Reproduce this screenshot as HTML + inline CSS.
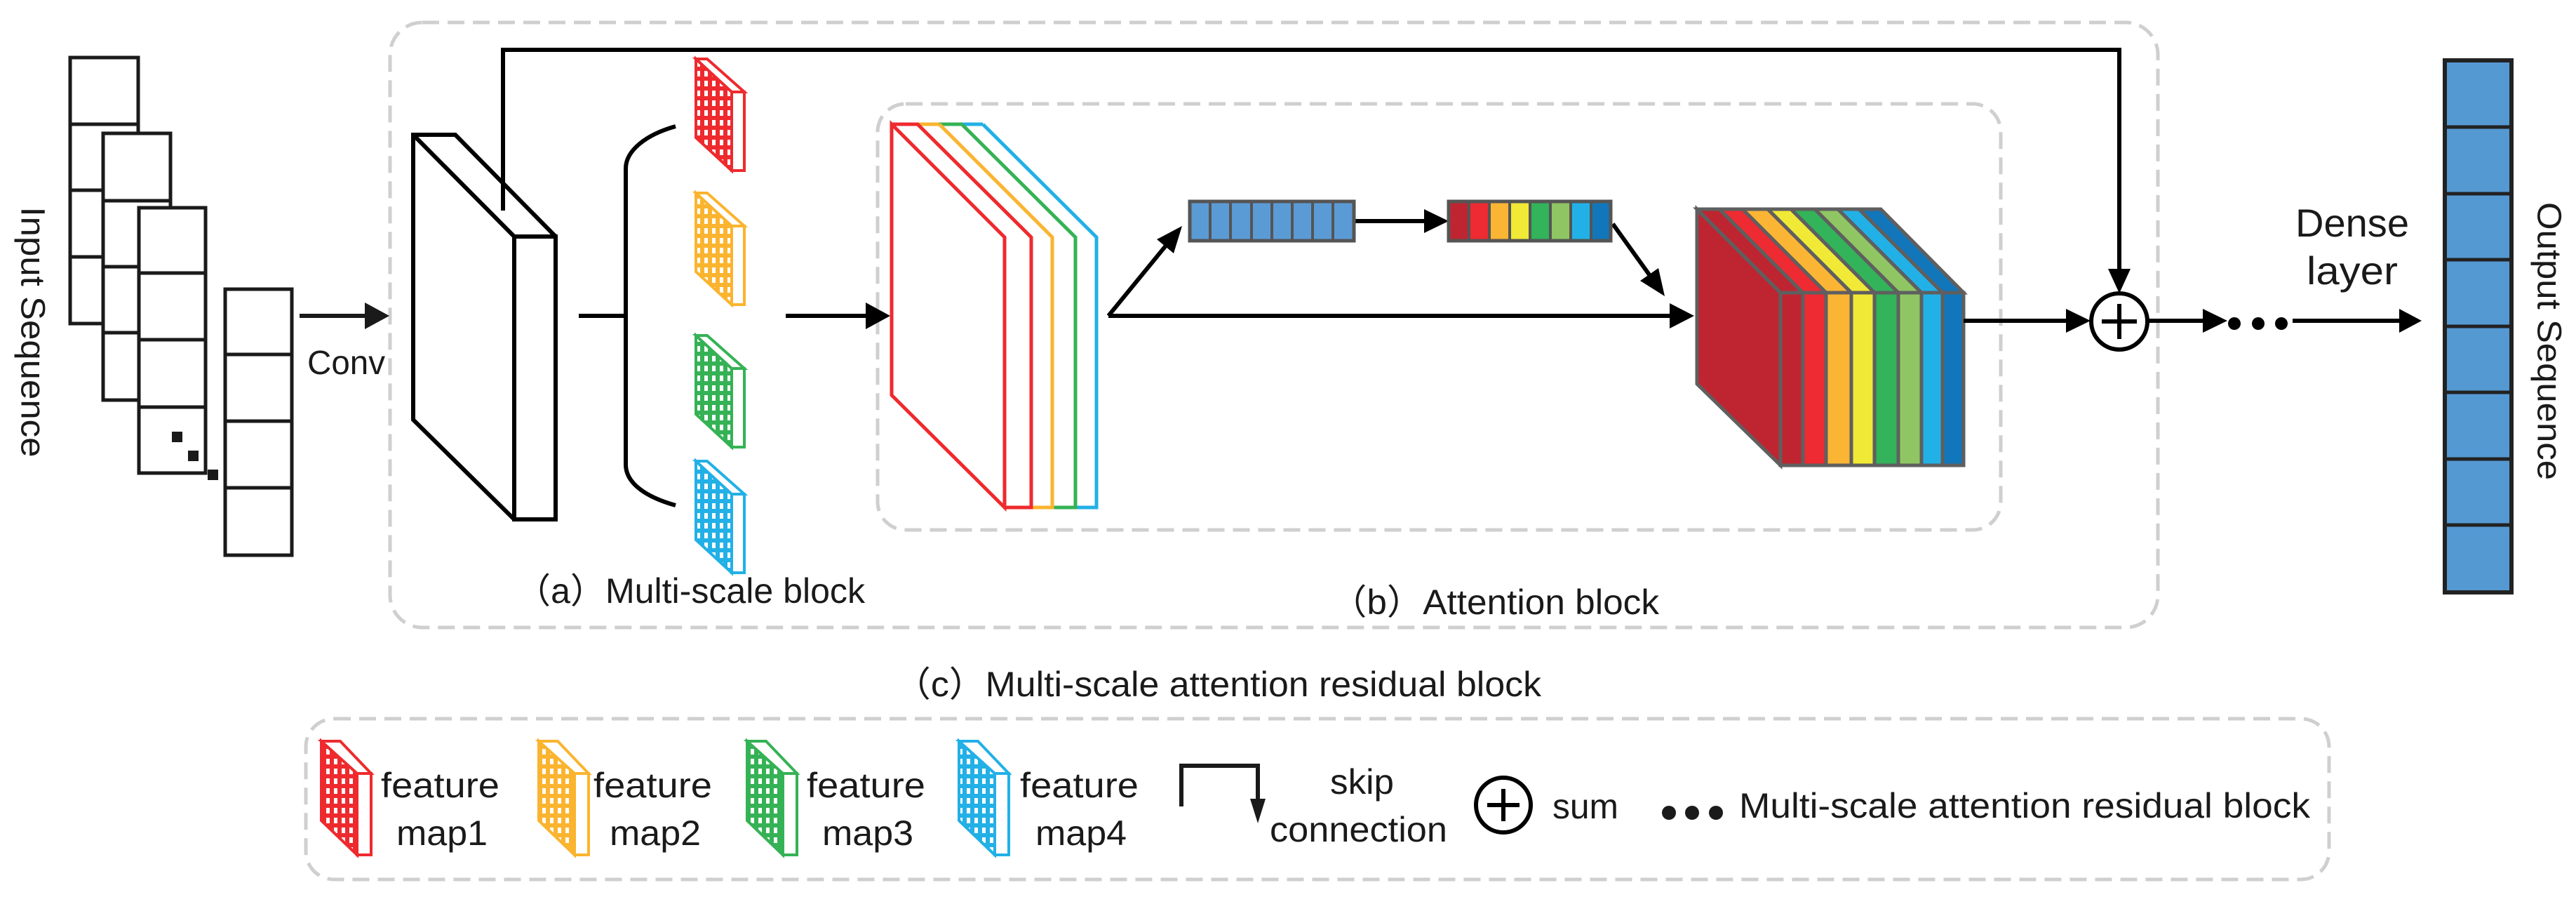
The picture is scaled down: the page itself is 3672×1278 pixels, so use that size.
<!DOCTYPE html>
<html><head><meta charset="utf-8"><style>html,body{margin:0;padding:0;background:#fff}svg{display:block}</style></head>
<body>
<svg width="3672" height="1278" viewBox="0 0 3672 1278" xmlns="http://www.w3.org/2000/svg" font-family="'Liberation Sans','Noto Sans CJK SC',sans-serif" fill="#1a1a1a">
<defs>
<pattern id="grid" width="11" height="14" patternUnits="userSpaceOnUse"><rect x="3" y="3" width="5" height="8" fill="#fff"/></pattern>
</defs>
<rect width="3672" height="1278" fill="#fff"/>

<!-- dashed boxes -->
<g fill="none" stroke="#cfcfcf" stroke-width="5" stroke-dasharray="24 12">
<rect x="556" y="32" width="2520" height="862" rx="46"/>
<rect x="1251" y="148" width="1601" height="607" rx="40"/>
<rect x="436" y="1024" width="2884" height="229" rx="40"/>
</g>

<!-- input sequence -->
<g fill="#fff" stroke="#1a1a1a" stroke-width="5">
<rect x="100" y="82" width="97" height="379"/><line x1="100" y1="177" x2="197" y2="177"/><line x1="100" y1="271" x2="197" y2="271"/><line x1="100" y1="366" x2="197" y2="366"/>
<rect x="147" y="190" width="96" height="380"/><line x1="147" y1="286" x2="243" y2="286"/><line x1="147" y1="380" x2="243" y2="380"/><line x1="147" y1="474" x2="243" y2="474"/>
<rect x="198" y="296" width="95" height="378"/><line x1="198" y1="389" x2="293" y2="389"/><line x1="198" y1="484" x2="293" y2="484"/><line x1="198" y1="580" x2="293" y2="580"/>
<rect x="321" y="412" width="95" height="379"/><line x1="321" y1="505" x2="416" y2="505"/><line x1="321" y1="600" x2="416" y2="600"/><line x1="321" y1="695" x2="416" y2="695"/>
</g>
<rect x="245" y="615" width="15" height="15"/><rect x="268" y="642" width="15" height="15"/><rect x="296" y="669" width="15" height="15"/>
<text transform="translate(46,473) rotate(90)" text-anchor="middle" font-size="48" dominant-baseline="central" textLength="357" lengthAdjust="spacingAndGlyphs">Input Sequence</text>

<!-- conv arrow -->
<line x1="427" y1="450" x2="525" y2="450" stroke="#1a1a1a" stroke-width="6"/>
<polygon points="520,431 555,450 520,469"/>
<text x="438" y="533" font-size="48" textLength="111" lengthAdjust="spacingAndGlyphs">Conv</text>

<!-- conv slab -->
<g fill="#fff" stroke="#000" stroke-width="6" stroke-linejoin="miter">
<polygon points="589,192 649,192 792,337 792,740 733,740 589,598"/>
<line x1="589" y1="192" x2="733" y2="337"/>
<rect x="733" y="337" width="59" height="403"/>
</g>
<!-- skip connection -->
<polyline points="717,300 717,71 3021,71 3021,390" fill="none" stroke="#000" stroke-width="6"/>
<polygon points="3005,383 3021,418 3037,383" fill="#000"/>

<!-- bracket -->
<g fill="none" stroke="#000" stroke-width="6">
<line x1="825" y1="450" x2="892" y2="450"/>
<path d="M963,180 C920,192 892,215 892,240 L892,662 C892,688 920,708 963,720"/>
<line x1="1120" y1="450" x2="1245" y2="450"/>
</g>
<polygon points="1234,431 1269,450 1234,469" fill="#000"/>

<!-- feature maps multi-scale -->
<g stroke-width="4" stroke-linejoin="miter">
<g stroke="#ee2a2e"><polygon points="992,84 1043,131 1043,243 992,196" fill="#ee2a2e"/><polygon points="992,84 1043,131 1043,243 992,196" fill="url(#grid)"/><polygon points="992,84 1008,84 1061,131 1043,131" fill="#fff"/><rect x="1043" y="131" width="18" height="112" fill="#fff"/></g>
<g stroke="#fbb42f"><polygon points="992,275 1043,322 1043,434 992,387" fill="#fbb42f"/><polygon points="992,275 1043,322 1043,434 992,387" fill="url(#grid)"/><polygon points="992,275 1008,275 1061,322 1043,322" fill="#fff"/><rect x="1043" y="322" width="18" height="112" fill="#fff"/></g>
<g stroke="#35b255"><polygon points="992,478 1043,525 1043,637 992,590" fill="#35b255"/><polygon points="992,478 1043,525 1043,637 992,590" fill="url(#grid)"/><polygon points="992,478 1008,478 1061,525 1043,525" fill="#fff"/><rect x="1043" y="525" width="18" height="112" fill="#fff"/></g>
<g stroke="#22b0e6"><polygon points="992,657 1043,704 1043,816 992,769" fill="#22b0e6"/><polygon points="992,657 1043,704 1043,816 992,769" fill="url(#grid)"/><polygon points="992,657 1008,657 1061,704 1043,704" fill="#fff"/><rect x="1043" y="704" width="18" height="112" fill="#fff"/></g>
</g>

<!-- attention stacked outline block -->
<g fill="none" stroke-width="5" stroke-linejoin="miter">
<path d="M1401,177 L1563,338 L1563,723 L1533,723 M1371,177 L1401,177" stroke="#22b0e6"/>
<path d="M1371,177 L1533,338 L1533,723 L1500,723 M1339,177 L1371,177" stroke="#35b255"/>
<path d="M1339,177 L1500,338 L1500,723 L1470,723 M1308,177 L1339,177" stroke="#fbb42f"/>
<path d="M1271,177 L1432,338 L1432,723 L1271,563 Z M1271,177 L1308,177 L1470,338 L1470,723 L1432,723" stroke="#ee2a2e"/>
</g>

<!-- arrows in attention -->
<g stroke="#000" stroke-width="6" fill="none">
<line x1="1580" y1="450" x2="2385" y2="450"/>
<line x1="1580" y1="450" x2="1666" y2="345"/>
<line x1="1930" y1="315" x2="2035" y2="315"/>
<line x1="2299" y1="319" x2="2355" y2="397"/>
</g>
<g fill="#000">
<polygon points="2380,432 2415,450 2380,468"/>
<polygon points="1673,361 1685,322 1649,341"/>
<polygon points="2030,298 2065,315 2030,332"/>
<polygon points="2364,382 2373,422 2338,400"/>
</g>

<!-- blue vector -->
<g stroke="#555" stroke-width="5" fill="#5b9bd5">
<rect x="1696" y="287" width="234" height="56"/>
</g>
<g stroke="#555" stroke-width="4">
<line x1="1725" y1="287" x2="1725" y2="343"/><line x1="1754" y1="287" x2="1754" y2="343"/><line x1="1784" y1="287" x2="1784" y2="343"/><line x1="1813" y1="287" x2="1813" y2="343"/><line x1="1842" y1="287" x2="1842" y2="343"/><line x1="1871" y1="287" x2="1871" y2="343"/><line x1="1900" y1="287" x2="1900" y2="343"/>
</g>
<!-- colored vector -->
<g stroke="#555" stroke-width="4">
<rect x="2065" y="287" width="29" height="56" fill="#be2530"/>
<rect x="2094" y="287" width="29" height="56" fill="#ee2a32"/>
<rect x="2123" y="287" width="29" height="56" fill="#fbb534"/>
<rect x="2152" y="287" width="29" height="56" fill="#f0e936"/>
<rect x="2181" y="287" width="29" height="56" fill="#33b35a"/>
<rect x="2210" y="287" width="29" height="56" fill="#8fc663"/>
<rect x="2239" y="287" width="29" height="56" fill="#22b1e7"/>
<rect x="2268" y="287" width="28" height="56" fill="#1276ba"/>
</g>
<rect x="2065" y="287" width="231" height="56" fill="none" stroke="#555" stroke-width="5"/>

<!-- big cube -->
<g stroke="#5f5f5f" stroke-width="5" stroke-linejoin="miter">
<polygon points="2419,298 2538,417 2538,663 2419,547" fill="#be2530"/>
<polygon points="2419,298 2451,298 2570,417 2538,417" fill="#be2530"/>
<polygon points="2451,298 2484,298 2603,417 2570,417" fill="#ee2a32"/>
<polygon points="2484,298 2520,298 2639,417 2603,417" fill="#fbb534"/>
<polygon points="2520,298 2553,298 2672,417 2639,417" fill="#f0e936"/>
<polygon points="2553,298 2587,298 2706,417 2672,417" fill="#33b35a"/>
<polygon points="2587,298 2620,298 2739,417 2706,417" fill="#8fc663"/>
<polygon points="2620,298 2650,298 2769,417 2739,417" fill="#22b1e7"/>
<polygon points="2650,298 2681,298 2799,417 2769,417" fill="#1276ba"/>
<rect x="2538" y="417" width="32" height="246" fill="#be2530"/>
<rect x="2570" y="417" width="33" height="246" fill="#ee2a32"/>
<rect x="2603" y="417" width="36" height="246" fill="#fbb534"/>
<rect x="2639" y="417" width="33" height="246" fill="#f0e936"/>
<rect x="2672" y="417" width="34" height="246" fill="#33b35a"/>
<rect x="2706" y="417" width="33" height="246" fill="#8fc663"/>
<rect x="2739" y="417" width="30" height="246" fill="#22b1e7"/>
<rect x="2769" y="417" width="30" height="246" fill="#1276ba"/>
</g>

<!-- sum and output arrows -->
<g stroke="#000" stroke-width="6" fill="none">
<line x1="2799" y1="457" x2="2950" y2="457"/>
<circle cx="3021" cy="458" r="40"/>
<line x1="2996" y1="458" x2="3046" y2="458"/><line x1="3021" y1="433" x2="3021" y2="483"/>
<line x1="3061" y1="457" x2="3145" y2="457"/>
<line x1="3268" y1="457" x2="3425" y2="457"/>
</g>
<g fill="#000">
<polygon points="2945,440 2980,457 2945,474"/>
<polygon points="3140,440 3175,457 3140,474"/>
<polygon points="3420,440 3452,457 3420,474"/>
<circle cx="3185" cy="461" r="9"/><circle cx="3219" cy="461" r="9"/><circle cx="3252" cy="461" r="9"/>
</g>
<text x="3272" y="337" font-size="56" textLength="162" lengthAdjust="spacingAndGlyphs">Dense</text>
<text x="3288" y="405" font-size="56" textLength="130" lengthAdjust="spacingAndGlyphs">layer</text>

<!-- output sequence -->
<rect x="3485" y="86" width="95" height="758" fill="#5599d3" stroke="#222" stroke-width="6"/>
<g stroke="#222" stroke-width="5">
<line x1="3485" y1="181" x2="3580" y2="181"/><line x1="3485" y1="276" x2="3580" y2="276"/><line x1="3485" y1="370" x2="3580" y2="370"/><line x1="3485" y1="465" x2="3580" y2="465"/><line x1="3485" y1="559" x2="3580" y2="559"/><line x1="3485" y1="654" x2="3580" y2="654"/><line x1="3485" y1="748" x2="3580" y2="748"/>
</g>
<text transform="translate(3633,486) rotate(90)" text-anchor="middle" dominant-baseline="central" font-size="48" textLength="396" lengthAdjust="spacingAndGlyphs">Output Sequence</text>

<!-- captions -->
<text x="735" y="859" font-size="50" textLength="498" lengthAdjust="spacingAndGlyphs">（a）Multi-scale block</text>
<text x="1897" y="875" font-size="50" textLength="468" lengthAdjust="spacingAndGlyphs">（b）Attention block</text>
<text x="1275" y="992" font-size="50" textLength="922" lengthAdjust="spacingAndGlyphs">（c）Multi-scale attention residual block</text>

<!-- legend feature maps -->
<g stroke-width="4">
<g stroke="#ee2a2e"><polygon points="458,1056 509,1102 509,1218 458,1169" fill="#ee2a2e"/><polygon points="458,1056 509,1102 509,1218 458,1169" fill="url(#grid)"/><polygon points="458,1056 485,1056 529,1102 509,1102" fill="#fff"/><rect x="509" y="1102" width="20" height="116" fill="#fff"/></g>
<g stroke="#fbb42f"><polygon points="768,1056 819,1102 819,1218 768,1169" fill="#fbb42f"/><polygon points="768,1056 819,1102 819,1218 768,1169" fill="url(#grid)"/><polygon points="768,1056 795,1056 839,1102 819,1102" fill="#fff"/><rect x="819" y="1102" width="20" height="116" fill="#fff"/></g>
<g stroke="#35b255"><polygon points="1065,1056 1116,1102 1116,1218 1065,1169" fill="#35b255"/><polygon points="1065,1056 1116,1102 1116,1218 1065,1169" fill="url(#grid)"/><polygon points="1065,1056 1092,1056 1136,1102 1116,1102" fill="#fff"/><rect x="1116" y="1102" width="20" height="116" fill="#fff"/></g>
<g stroke="#22b0e6"><polygon points="1367,1056 1418,1102 1418,1218 1367,1169" fill="#22b0e6"/><polygon points="1367,1056 1418,1102 1418,1218 1367,1169" fill="url(#grid)"/><polygon points="1367,1056 1394,1056 1438,1102 1418,1102" fill="#fff"/><rect x="1418" y="1102" width="20" height="116" fill="#fff"/></g>
</g>
<g font-size="50">
<text x="543" y="1136" textLength="169" lengthAdjust="spacingAndGlyphs">feature</text>
<text x="565" y="1204" textLength="130" lengthAdjust="spacingAndGlyphs">map1</text>
<text x="846" y="1136" textLength="169" lengthAdjust="spacingAndGlyphs">feature</text>
<text x="869" y="1204" textLength="130" lengthAdjust="spacingAndGlyphs">map2</text>
<text x="1150" y="1136" textLength="169" lengthAdjust="spacingAndGlyphs">feature</text>
<text x="1172" y="1204" textLength="130" lengthAdjust="spacingAndGlyphs">map3</text>
<text x="1454" y="1136" textLength="169" lengthAdjust="spacingAndGlyphs">feature</text>
<text x="1476" y="1204" textLength="130" lengthAdjust="spacingAndGlyphs">map4</text>
<text x="1896" y="1131" textLength="91" lengthAdjust="spacingAndGlyphs">skip</text>
<text x="1810" y="1199" textLength="253" lengthAdjust="spacingAndGlyphs">connection</text>
<text x="2213" y="1166" textLength="94" lengthAdjust="spacingAndGlyphs">sum</text>
<text x="2479" y="1165" textLength="814" lengthAdjust="spacingAndGlyphs">Multi-scale attention residual block</text>
</g>
<!-- legend skip icon -->
<polyline points="1684,1149 1684,1091 1793,1091 1793,1142" fill="none" stroke="#1a1a1a" stroke-width="6"/>
<polygon points="1782,1138 1793,1173 1804,1138" fill="#1a1a1a"/>
<!-- legend sum -->
<g stroke="#000" stroke-width="6" fill="none">
<circle cx="2143" cy="1147" r="39"/>
<line x1="2120" y1="1147" x2="2166" y2="1147"/><line x1="2143" y1="1124" x2="2143" y2="1170"/>
</g>
<g fill="#1a1a1a"><circle cx="2379" cy="1158" r="10"/><circle cx="2412" cy="1158" r="10"/><circle cx="2446" cy="1158" r="10"/></g>
</svg>
</body></html>
